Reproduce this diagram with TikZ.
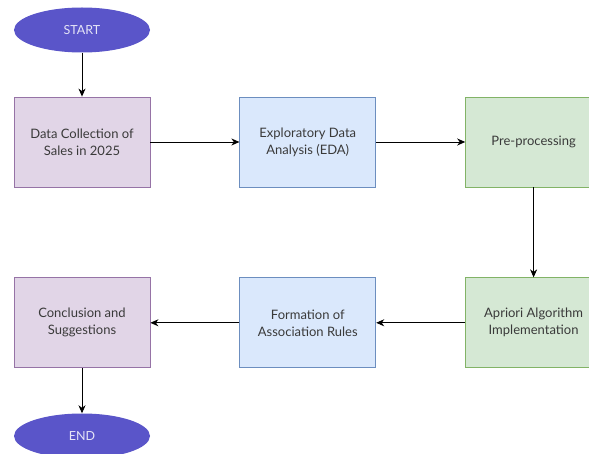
\documentclass[tikz,border=0pt]{standalone}
\usepackage{fontspec}
\setmainfont{Lato}
\usetikzlibrary{arrows.meta,positioning,shapes.geometric}
\definecolor{termfill}{HTML}{5A55C9}
\definecolor{purplefill}{HTML}{E1D5E7}
\definecolor{purpleline}{HTML}{9673A6}
\definecolor{bluefill}{HTML}{DAE8FC}
\definecolor{blueline}{HTML}{6C8EBF}
\definecolor{greenfill}{HTML}{D5E8D4}
\definecolor{greenline}{HTML}{82B366}
\definecolor{labeltext}{HTML}{3A3A3A}
\tikzset{
    %Define standard arrow tip
    >={Stealth[length=8pt,width=7pt,inset=2.5pt]},
    % Define arrow style
    flow/.style={
           ->,
           line width=0.9pt,}
}
\begin{document}
\begin{tikzpicture}[
x=1pt, y=1pt,
node distance=89pt,
terminal/.style={ellipse, fill=termfill, text=white!85!termfill,
    minimum width=136pt, minimum height=45pt, inner sep=0pt, font=\fontsize{12.5}{14}\selectfont},
procbox/.style={rectangle, draw, line width=0.8pt, text=labeltext, align=center,
    minimum width=136pt, minimum height=90pt, inner sep=2pt, font=\fontsize{13}{17}\selectfont},
purplebox/.style={procbox, fill=purplefill, draw=purpleline},
bluebox/.style={procbox, fill=bluefill, draw=blueline},
greenbox/.style={procbox, fill=greenfill, draw=greenline},
]
\clip (0,0) rectangle (589,-454);
\fill[white] (0,0) rectangle (589,-454);
%Nodes
\node[terminal](start) at (82,-30){START};
\node[purplebox](collect) at (82,-142){Data Collection of\\Sales in 2025};
\node[bluebox](eda)[right=of collect]{Exploratory Data\\Analysis (EDA)};
\node[greenbox](prep)[right=of eda]{Pre-processing};

\node[greenbox](apriori)[below=90pt of prep]{Apriori Algorithm\\Implementation};
\node[bluebox](rules)[left=of apriori]{Formation of\\Association Rules};
\node[purplebox](concl)[left=of rules]{Conclusion and\\Suggestions};
\node[terminal](finish) at (82,-436){END};

\draw[flow] (start) -- (collect);
\draw[flow] (collect) -- (eda);
\draw[flow] (eda) -- (prep);
\draw[flow] (prep) -- (apriori);
\draw[flow] (apriori) -- (rules);
\draw[flow] (rules) -- (concl);
\draw[flow] (concl) -- (finish);

\end{tikzpicture}
\end{document}
